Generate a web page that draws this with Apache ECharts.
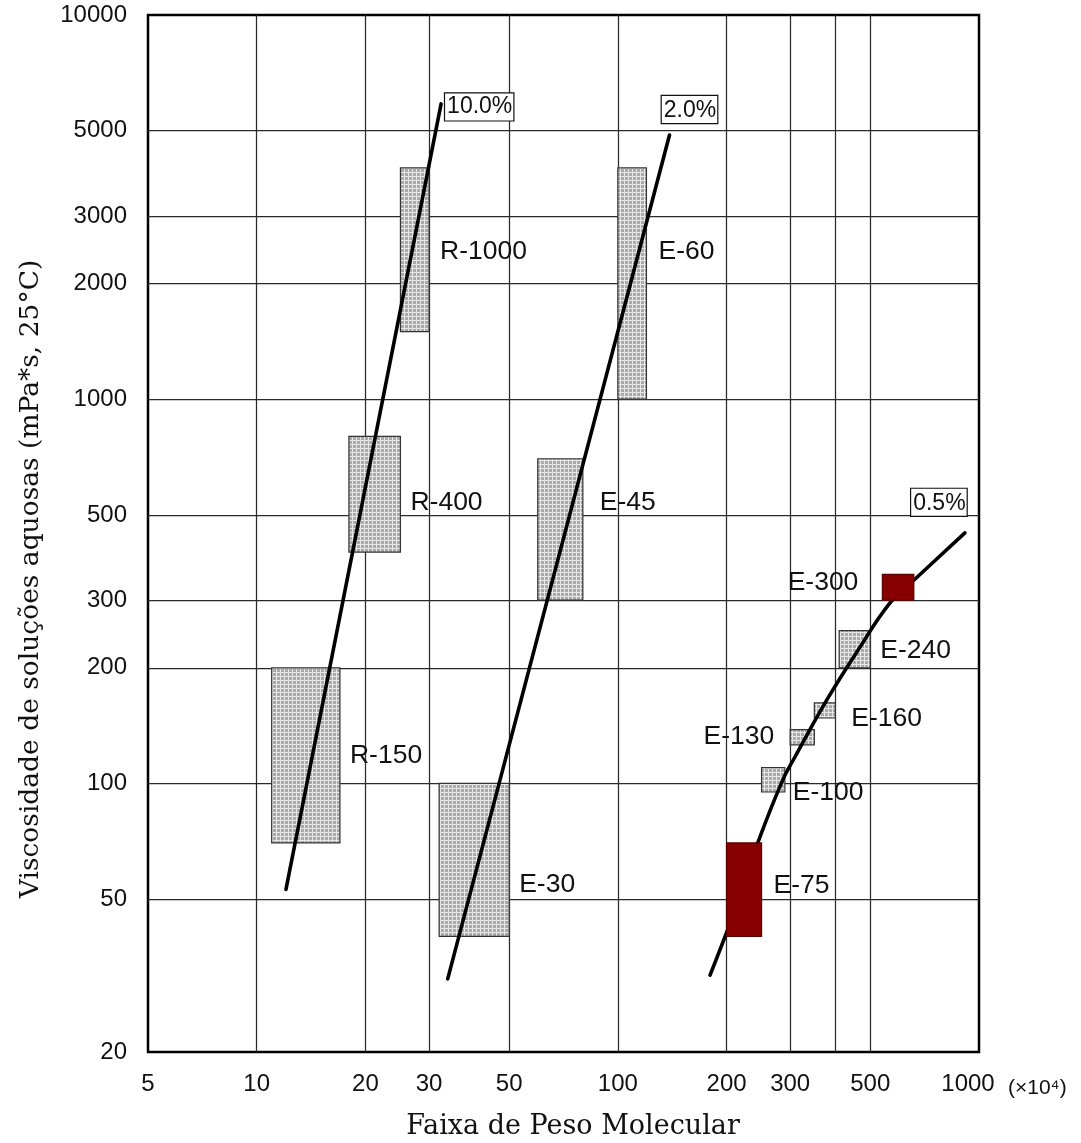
<!DOCTYPE html>
<html>
<head>
<meta charset="utf-8">
<title>Viscosidade x Peso Molecular</title>
<script src="https://cdn.jsdelivr.net/npm/echarts@6/dist/echarts.min.js"></script>
<style>
  html, body { margin: 0; padding: 0; background: #fff; }
  #chart { width: 1081px; height: 1143px; }
</style>
</head>
<body>
<div id="chart"></div>
<script>
// Axis ticks (molecular weight in units of 10^4, viscosity in mPa*s)
const xLabelValues = [5, 10, 20, 30, 50, 100, 200, 300, 500, 1000];
const xGridValues = [10, 20, 30, 50, 100, 200, 300, 400, 500];
const yLabelValues = [20, 50, 100, 200, 300, 500, 1000, 2000, 3000, 5000, 10000];
const yGridValues = [50, 100, 200, 300, 500, 1000, 2000, 3000, 5000];

// Product grades: molecular weight range and viscosity range
const grades    = ['R-150', 'R-400', 'R-1000', 'E-30', 'E-45', 'E-60', 'E-75', 'E-100', 'E-130', 'E-160', 'E-240', 'E-300'];
const mwFrom    = [11,  18,  25,   32,  60,  100,  200, 250, 300, 350, 410, 540];
const mwTo      = [17,  25,  30,   50,  80,  120,  250, 290, 350, 400, 500, 660];
const viscFrom  = [70,  400, 1500, 40,  300, 1000, 40,  95,  126, 148, 200, 300];
const viscTo    = [200, 800, 4000, 100, 700, 4000, 70,  110, 138, 162, 250, 350];
const featuredGrades = ['E-75', 'E-300'];

// Concentration curves (molecular weight, viscosity)
const curve10 = [[12.05, 53], [32.4, 5870]];
const curve2  = [[33.8, 31], [139, 4870]];
const curve05 = [[180, 31.7], [216, 49.7], [244, 70], [286, 102], [309, 117], [379, 165],
                 [462, 222], [567, 295], [669, 342], [914, 449]];
const curveNames = ['10.0%', '2.0%', '0.5%'];
const curves = [curve10, curve2, curve05];

// Where each grade's name sits next to its box
const gradeLabelLayout = {
  'R-150':  { side: 'right', gap: 10, dy: 0 },
  'R-400':  { side: 'right', gap: 10, dy: 8 },
  'R-1000': { side: 'right', gap: 11, dy: 2 },
  'E-30':   { side: 'right', gap: 10, dy: 25 },
  'E-45':   { side: 'right', gap: 17, dy: -27 },
  'E-60':   { side: 'right', gap: 12, dy: -32 },
  'E-75':   { side: 'right', gap: 12, dy: -4 },
  'E-100':  { side: 'right', gap: 8,  dy: 13 },
  'E-130':  { side: 'left',  gap: 16, dy: -1 },
  'E-160':  { side: 'right', gap: 16, dy: 8 },
  'E-240':  { side: 'right', gap: 10, dy: 2 },
  'E-300':  { side: 'left',  gap: 24, dy: -5 }
};
// Boxed concentration tags at the upper end of each curve
const curveLabelLayout = {
  '10.0%': { anchor: 'right', dx: 4,   dy: 3 },
  '2.0%':  { anchor: 'top',   dx: 20,  dy: -12 },
  '0.5%':  { anchor: 'top',   dx: -26, dy: -17 }
};

const SANS = '"Liberation Sans", Arial, Helvetica, sans-serif';
const SERIF = '"DejaVu Serif", "Liberation Serif", serif';

// Fine screen-tone fill for the ordinary grade boxes
function makeScreenTone() {
  const c = document.createElement('canvas');
  c.width = 4; c.height = 4;
  const g = c.getContext('2d');
  g.fillStyle = '#aaaaaa';
  g.fillRect(0, 0, 4, 4);
  g.fillStyle = 'rgba(255,255,255,0.72)';
  g.fillRect(0, 0, 4, 1);
  g.fillRect(0, 1, 1, 3);
  return c;
}
const screenTone = { image: makeScreenTone(), repeat: 'repeat' };

function gradeData(featured) {
  const out = [];
  grades.forEach((name, i) => {
    if (featuredGrades.includes(name) === featured) {
      out.push({ name, value: [mwFrom[i], mwTo[i], viscFrom[i], viscTo[i], i] });
    }
  });
  return out;
}

function renderGrade(params, api) {
  const name = grades[api.value(4)];
  const featured = featuredGrades.includes(name);
  const tl = api.coord([api.value(0), api.value(3)]);
  const br = api.coord([api.value(1), api.value(2)]);
  const lay = gradeLabelLayout[name];
  const cy = (tl[1] + br[1]) / 2 + lay.dy;
  const tx = lay.side === 'right' ? br[0] + lay.gap : tl[0] - lay.gap;
  return {
    type: 'group',
    children: [
      {
        type: 'rect',
        shape: { x: tl[0], y: tl[1], width: br[0] - tl[0], height: br[1] - tl[1] },
        style: {
          fill: featured ? '#860000' : screenTone,
          stroke: featured ? '#5a0000' : '#333',
          lineWidth: 1.2
        }
      },
      {
        type: 'text',
        x: tx,
        y: cy,
        z2: 10,
        style: {
          text: name,
          fill: '#111',
          font: '26.5px ' + SANS,
          textAlign: lay.side === 'right' ? 'left' : 'right',
          textVerticalAlign: 'middle'
        }
      }
    ]
  };
}

function renderCurveTag(params, api) {
  const name = curveNames[api.value(2)];
  const lay = curveLabelLayout[name];
  const p = api.coord([api.value(0), api.value(1)]);
  return {
    type: 'text',
    x: p[0] + lay.dx,
    y: p[1] + lay.dy,
    style: {
      text: name,
      fill: '#111',
      font: '23px ' + SANS,
      textAlign: lay.anchor === 'right' ? 'left' : 'center',
      textVerticalAlign: lay.anchor === 'right' ? 'middle' : 'bottom',
      backgroundColor: '#fff',
      borderColor: '#111',
      borderWidth: 1.2,
      padding: [3, 1, 1, 2]
    }
  };
}

const chart = echarts.init(document.getElementById('chart'), null, { renderer: 'canvas' });

const labelFont = { fontFamily: SANS, fontSize: 24, color: '#111' };
const gridLineStyle = { color: '#2a2a2a', width: 1.25 };

chart.setOption({
  animation: false,
  backgroundColor: '#fff',
  grid: {
    left: 148, right: 102, top: 15, bottom: 91,
    show: true, borderColor: '#000', borderWidth: 2.5, backgroundColor: 'transparent'
  },
  xAxis: {
    type: 'log', logBase: 10, min: 5, max: 1000,
    axisLine: { show: false },
    axisTick: { show: false, customValues: xGridValues },
    splitLine: { show: true, lineStyle: gridLineStyle },
    minorTick: { show: false }, minorSplitLine: { show: false },
    axisLabel: Object.assign({
      customValues: xLabelValues,
      margin: 20,
      formatter: v => {
        const s = String(Math.round(v));
        return Math.round(v) === 1000 ? '{end|' + s + '}' : s;
      },
      rich: { end: Object.assign({ padding: [0, 22, 0, 0] }, labelFont) }
    }, labelFont)
  },
  yAxis: {
    type: 'log', logBase: 10, min: 20, max: 10000,
    axisLine: { show: false },
    axisTick: { show: false, customValues: yGridValues },
    splitLine: { show: true, lineStyle: gridLineStyle },
    minorTick: { show: false }, minorSplitLine: { show: false },
    axisLabel: Object.assign({
      customValues: yLabelValues,
      margin: 21,
      padding: [9, 0, 0, 0],
      formatter: v => String(Math.round(v))
    }, labelFont)
  },
  graphic: [
    {
      type: 'text', x: 31, y: 579, rotation: Math.PI / 2,
      style: {
        text: 'Viscosidade de soluções aquosas (mPa*s, 25°C)',
        font: '26.5px ' + SERIF, fill: '#111',
        textAlign: 'center', textVerticalAlign: 'middle'
      }
    },
    {
      type: 'text', x: 573, y: 1127,
      style: {
        text: 'Faixa de Peso Molecular',
        font: '27px ' + SERIF, fill: '#111',
        textAlign: 'center', textVerticalAlign: 'middle'
      }
    },
    {
      type: 'text', x: 1008, y: 1088,
      style: {
        text: '(×10⁴)',
        font: '21px ' + SANS, fill: '#111',
        textAlign: 'left', textVerticalAlign: 'middle'
      }
    }
  ],
  series: [
    {
      type: 'custom', name: 'grades', z: 2,
      renderItem: renderGrade,
      encode: { x: [0, 1], y: [2, 3] },
      data: gradeData(false)
    },
    ...curves.map((pts, i) => ({
      type: 'line', name: curveNames[i], z: 3,
      data: pts,
      symbol: 'none',
      smooth: pts.length > 2 ? 0.4 : false,
      lineStyle: { color: '#000', width: 3.6, cap: 'round' }
    })),
    {
      type: 'custom', name: 'featured', z: 4,
      renderItem: renderGrade,
      encode: { x: [0, 1], y: [2, 3] },
      data: gradeData(true)
    },
    {
      type: 'custom', name: 'concentration', z: 5,
      renderItem: renderCurveTag,
      encode: { x: 0, y: 1 },
      data: curves.map((pts, i) => [pts[pts.length - 1][0], pts[pts.length - 1][1], i])
    }
  ]
});
</script>
</body>
</html>
